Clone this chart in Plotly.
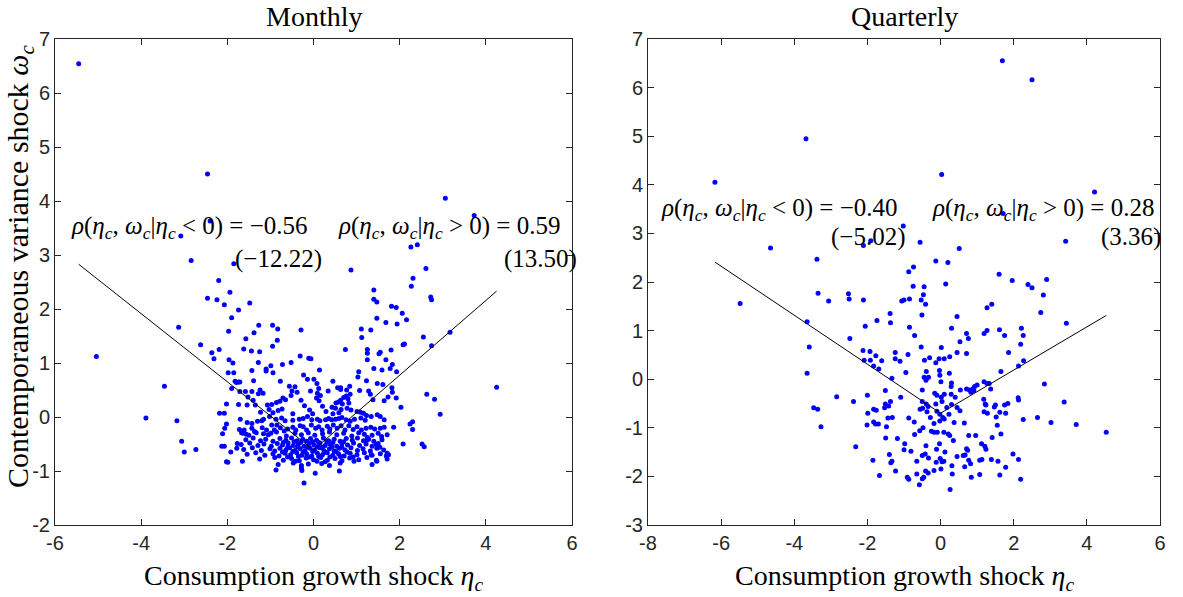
import plotly.graph_objects as go

# (eta_c, omega_c) pairs -- monthly sample
monthly_shocks = [
    (-5.45, 6.54), (-2.46, 4.50), (3.06, 4.05), (3.73, 3.73), (-3.08, 3.35), (-2.40, 3.63),
    (-2.84, 2.90), (-1.85, 2.84), (-2.20, 2.53), (-1.94, 2.31), (-2.46, 2.20), (-2.24, 2.17),
    (0.87, 2.72), (1.40, 2.35), (2.26, 3.15), (2.41, 3.19), (2.61, 2.75), (2.31, 2.57),
    (2.27, 2.42), (2.72, 2.22), (1.40, 2.18), (1.47, 2.13), (2.74, 2.17), (1.81, 2.05),
    (1.92, 2.03), (2.06, 1.92), (1.47, 1.83), (2.16, 1.80), (1.68, 1.75), (1.94, 1.72),
    (-1.48, 2.11), (-1.27, 1.70), (-0.95, 1.70), (-0.83, 1.63), (-0.29, 1.61), (1.11, 1.63),
    (1.33, 1.61), (-2.07, 2.08), (-1.90, 1.84), (-1.74, 1.98), (-3.13, 1.66), (-1.97, 1.59),
    (-2.62, 1.34), (-2.36, 1.19), (-2.19, 1.25), (-2.31, 1.08), (-1.96, 1.06), (-1.87, 1.00),
    (-1.98, 0.82), (-1.85, 0.82), (-1.82, 0.66), (-1.79, 0.64), (-1.74, 0.65), (-1.90, 0.53),
    (-5.04, 1.12), (-3.46, 0.57), (-3.89, -0.02), (-3.17, -0.07), (-3.06, -0.45), (-3.00, -0.65),
    (-2.73, -0.60), (-2.02, 0.24), (-1.74, 0.23), (-2.18, 0.07), (-2.07, 0.07), (-2.02, -0.13),
    (-2.06, -0.21), (-2.11, -0.31), (-1.72, -0.23), (-2.13, -0.54), (-2.07, -0.54), (-1.77, -0.49),
    (-1.78, -0.58), (-1.92, -0.65), (-2.02, -0.83), (4.25, 0.55), (2.94, 0.05), (3.17, 1.57),
    (-1.38, 1.56), (-1.57, 1.45), (-0.84, 1.42), (1.12, 1.47), (2.55, 1.48), (2.08, 1.34),
    (2.11, 1.35), (2.74, 1.32), (-0.95, 1.31), (-1.62, 1.26), (-1.44, 1.22), (-1.25, 1.21),
    (0.74, 1.25), (1.25, 1.25), (1.25, 1.18), (1.55, 1.20), (1.52, 1.17), (1.80, 1.24),
    (-0.31, 1.13), (-0.11, 1.09), (-0.06, 1.08), (1.25, 1.06), (1.68, 1.06), (-1.28, 1.01),
    (-0.72, 0.97), (-0.52, 1.01), (-0.99, 0.95), (-1.10, 0.89), (-1.10, 0.85), (-0.94, 0.82),
    (-1.43, 0.86), (1.83, 0.97), (1.78, 0.90), (1.93, 0.84), (1.05, 0.84), (1.40, 0.90),
    (1.59, 0.87), (1.03, 0.74), (-0.23, 0.78), (-0.14, 0.70), (0.14, 0.87), (-1.71, 0.65),
    (-1.39, 0.67), (-0.77, 0.66), (0.01, 0.70), (0.08, 0.62), (1.23, 0.67), (1.48, 0.62),
    (0.45, 0.66), (1.61, 0.60), (1.82, 0.54), (-0.56, 0.57), (-0.43, 0.56), (0.12, 0.53),
    (0.84, 0.57), (0.63, 0.54), (1.07, 0.49), (1.28, 0.48), (1.32, 0.42), (1.83, 0.46),
    (-1.58, 0.47), (-1.43, 0.47), (-1.24, 0.50), (-1.17, 0.44), (-1.28, 0.43), (-0.50, 0.48),
    (-0.38, 0.46), (-0.07, 0.48), (0.09, 0.44), (0.34, 0.48), (0.56, 0.54), (0.63, 0.51),
    (0.77, 0.50), (0.85, 0.42), (0.76, 0.39), (-1.52, 0.37), (-1.40, 0.31), (-1.71, 0.47),
    (-0.71, 0.35), (-0.65, 0.32), (-0.78, 0.29), (-0.86, 0.27), (-0.52, 0.40), (-0.29, 0.31),
    (-0.21, 0.21), (0.16, 0.40), (0.07, 0.35), (0.13, 0.30), (0.58, 0.28), (0.52, 0.26),
    (0.63, 0.31), (0.70, 0.36), (0.67, 0.24), (0.80, 0.34), (0.82, 0.26), (1.38, 0.32),
    (1.64, 0.30), (1.73, 0.37), (1.92, 0.35), (2.03, 0.18), (2.63, 0.42), (2.81, 0.33),
    (-1.54, 0.22), (-1.35, 0.22), (-1.07, 0.22), (-0.97, 0.23), (-1.23, 0.09), (-1.03, 0.14),
    (-0.94, 0.08), (-0.82, 0.12), (-0.73, 0.15), (-0.48, 0.06), (-0.09, 0.13), (-0.02, 0.06),
    (0.29, 0.10), (0.21, 0.20), (0.43, 0.18), (0.51, 0.16), (0.45, 0.06), (0.59, 0.08),
    (0.64, 0.14), (0.78, 0.16), (0.87, 0.13), (1.01, 0.10), (1.09, 0.09), (1.16, 0.07),
    (1.23, 0.03), (1.34, 0.01), (1.48, 0.04), (1.55, 0.01), (1.64, -0.05), (1.20, -0.06),
    (1.10, -0.02), (-1.70, -0.04), (-1.54, -0.10), (-1.43, -0.12), (-1.30, -0.08), (-1.20, -0.07),
    (-1.16, -0.04), (-1.02, 0.01), (-0.87, -0.04), (-0.74, -0.02), (-0.66, -0.07), (-0.48, -0.06),
    (-0.33, -0.04), (-0.24, -0.03), (-0.14, 0.01), (-0.04, -0.05), (0.09, -0.04), (0.15, -0.07),
    (0.28, -0.05), (0.35, -0.03), (0.42, -0.05), (0.51, -0.04), (0.59, -0.03), (0.66, -0.01),
    (0.76, -0.05), (0.85, -0.08), (0.95, -0.04), (1.86, -0.19), (2.24, -0.13), (2.30, -0.09),
    (2.30, -0.23), (-1.61, -0.24), (-1.56, -0.32), (-1.67, -0.29), (-1.43, -0.21), (-1.37, -0.27),
    (-1.19, -0.20), (-1.09, -0.24), (-1.16, -0.31), (-0.97, -0.15), (-0.91, -0.24), (-0.99, -0.30),
    (-0.85, -0.15), (-0.77, -0.20), (-0.68, -0.26), (-0.60, -0.22), (-0.48, -0.19), (-0.41, -0.24),
    (-0.31, -0.16), (-0.24, -0.18), (-0.16, -0.24), (-0.05, -0.15), (0.05, -0.21), (0.12, -0.18),
    (0.20, -0.24), (0.32, -0.17), (0.38, -0.22), (0.46, -0.15), (0.55, -0.21), (0.64, -0.16),
    (0.73, -0.24), (0.82, -0.16), (0.92, -0.23), (1.01, -0.18), (1.11, -0.24), (1.22, -0.21),
    (1.33, -0.19), (1.42, -0.22), (1.55, -0.21), (1.64, -0.19),
    (-1.64, -0.30), (-1.50, -0.34), (-1.33, -0.29), (-1.05, -0.33), (-0.86, -0.28), (-0.63, -0.35),
    (-0.43, -0.30), (-0.28, -0.33), (-0.12, -0.29), (0.03, -0.34), (0.21, -0.31), (0.37, -0.28),
    (0.54, -0.33), (0.70, -0.30), (0.89, -0.35), (1.05, -0.29), (1.18, -0.32), (1.36, -0.34),
    (1.50, -0.30), (1.71, -0.33),
    (-1.57, -0.42), (-1.40, -0.39), (-1.23, -0.44), (-1.11, -0.41), (-0.94, -0.45), (-0.78, -0.40),
    (-0.64, -0.43), (-0.51, -0.39), (-0.38, -0.44), (-0.25, -0.41), (-0.16, -0.45), (-0.07, -0.40),
    (0.07, -0.43), (0.23, -0.39), (0.35, -0.44), (0.48, -0.41), (0.62, -0.45), (0.76, -0.40),
    (0.90, -0.43), (1.02, -0.39), (1.16, -0.44), (1.28, -0.41), (1.40, -0.45), (1.59, -0.42),
    (-1.68, -0.51), (-1.48, -0.48), (-1.29, -0.53), (-1.15, -0.50), (-0.98, -0.54), (-0.84, -0.49),
    (-0.72, -0.52), (-0.59, -0.48), (-0.47, -0.53), (-0.35, -0.50), (-0.22, -0.54), (-0.10, -0.49),
    (0.01, -0.52), (0.15, -0.48), (0.27, -0.53), (0.38, -0.50), (0.54, -0.54), (0.66, -0.49),
    (0.79, -0.52), (0.93, -0.48), (1.07, -0.53), (1.22, -0.50), (1.36, -0.54), (1.50, -0.49),
    (-1.62, -0.60), (-1.42, -0.57), (-1.21, -0.62), (-1.01, -0.59), (-0.90, -0.63), (-0.78, -0.58),
    (-0.64, -0.61), (-0.55, -0.57), (-0.43, -0.62), (-0.31, -0.59), (-0.20, -0.63), (-0.08, -0.58),
    (0.03, -0.61), (0.15, -0.57), (0.24, -0.62), (0.37, -0.59), (0.48, -0.63), (0.60, -0.58),
    (0.73, -0.61), (0.87, -0.57), (1.02, -0.62), (1.15, -0.59), (1.32, -0.63), (1.47, -0.58),
    (1.63, -0.61),
    (-1.54, -0.69), (-1.34, -0.66), (-1.13, -0.71), (-0.94, -0.68), (-0.80, -0.72), (-0.66, -0.67),
    (-0.53, -0.70), (-0.39, -0.66), (-0.27, -0.71), (-0.16, -0.68), (-0.04, -0.72), (0.09, -0.67),
    (0.21, -0.70), (0.32, -0.66), (0.45, -0.71), (0.58, -0.68), (0.71, -0.72), (0.85, -0.67),
    (1.01, -0.70), (1.18, -0.66), (1.36, -0.71), (1.55, -0.68), (1.69, -0.72),
    (-1.25, -0.78), (-0.90, -0.75), (-0.70, -0.80), (-0.51, -0.77), (-0.33, -0.81), (-0.17, -0.76),
    (0.00, -0.79), (0.17, -0.75), (0.32, -0.80), (0.50, -0.77), (0.66, -0.81), (0.84, -0.76),
    (1.05, -0.79), (1.24, -0.75), (1.46, -0.80), (1.71, -0.78),
    (-0.82, -0.88), (-0.47, -0.85), (-0.28, -0.90), (-0.12, -0.87), (0.19, -0.86), (0.37, -0.90),
    (0.62, -0.85), (1.36, -0.88), (1.47, -0.82), (-1.99, -0.84), (-1.65, -0.82),
    (1.71, -0.67), (1.74, -0.70), (1.58, -0.36), (1.25, -0.38), (1.22, -0.45), (1.46, -0.51),
    (1.54, -0.56), (1.34, -0.70), (2.52, -0.50), (2.57, -0.55), (2.08, -0.50),
    (-0.87, -0.98), (-0.28, -0.95), (-0.27, -0.99), (0.04, -1.04), (0.60, -1.00), (-0.22, -1.22),
    (-0.70, -0.47), (-0.45, -0.46), (-0.30, -0.47), (-0.02, -0.46), (0.12, -0.47), (0.31, -0.46),
    (0.45, -0.47), (0.70, -0.46), (-0.60, -0.56), (-0.37, -0.55), (-0.14, -0.56), (0.09, -0.55),
    (0.20, -0.56), (0.43, -0.55), (0.66, -0.56), (-0.72, -0.65), (-0.48, -0.64), (-0.24, -0.65),
    (-0.02, -0.64), (0.27, -0.65), (0.52, -0.64), (0.78, -0.65), (-0.60, -0.74), (-0.35, -0.73),
    (-0.10, -0.74), (0.12, -0.73), (0.38, -0.74), (0.62, -0.73), (0.92, -0.74), (-0.42, -0.82),
    (0.08, -0.82), (0.27, -0.83), (0.94, -0.82),
]

# (eta_c, omega_c) pairs -- quarterly sample
quarterly_shocks = [
    (1.69, 6.55), (2.50, 6.16), (-3.68, 4.95), (-6.17, 4.05), (0.03, 4.21), (4.21, 3.85),
    (1.71, 3.41), (-1.02, 3.15), (-1.91, 2.85), (-2.11, 2.75), (-0.56, 2.82), (-4.65, 2.70),
    (0.51, 2.69), (3.42, 2.84), (-3.38, 2.47), (-0.13, 2.43), (0.20, 2.40), (-0.74, 2.31),
    (-0.87, 2.21), (1.60, 2.16), (1.96, 2.03), (2.39, 1.95), (2.90, 2.05), (0.14, 1.96),
    (-0.75, 1.91), (-0.45, 1.90), (2.50, 1.88),
    (-5.48, 1.56), (-3.35, 1.77), (-2.52, 1.76), (-2.50, 1.65), (-3.06, 1.61), (-2.11, 1.63),
    (-1.06, 1.61), (-1.00, 1.63), (-0.85, 1.65), (-0.53, 1.63), (-0.47, 1.74), (-0.41, 1.54),
    (2.81, 1.73), (1.27, 1.47), (1.40, 1.54), (-1.38, 1.35), (-0.51, 1.32), (0.45, 1.29),
    (2.74, 1.37), (-3.65, 1.18), (-1.74, 1.21), (-2.06, 1.09), (-1.37, 1.16), (-0.85, 1.07),
    (0.30, 1.05), (3.44, 1.15), (2.21, 1.05), (1.61, 1.02), (1.27, 1.00), (1.19, 0.94),
    (0.71, 0.94), (1.75, 0.90), (2.26, 0.90), (-0.71, 0.90), (-2.48, 0.84), (0.76, 0.84),
    (0.53, 0.77), (-3.59, 0.66), (-0.53, 0.66), (2.19, 0.72), (0.02, 0.65), (-2.12, 0.59),
    (-1.93, 0.57), (-1.24, 0.55), (0.45, 0.55), (0.71, 0.53), (1.86, 0.55), (-0.89, 0.51),
    (-1.77, 0.48), (-0.30, 0.44), (0.25, 0.46), (-2.09, 0.39), (-1.92, 0.39), (-1.61, 0.38),
    (-1.24, 0.42), (-1.11, 0.37), (-0.44, 0.39), (-0.04, 0.42), (0.10, 0.42), (2.27, 0.38),
    (-0.13, 0.34), (-1.83, 0.27), (-1.69, 0.21), (2.13, 0.27), (-3.65, 0.12), (-0.95, 0.14),
    (-0.39, 0.16), (-0.03, 0.18), (0.24, 0.12), (1.65, 0.16), (-0.02, 0.08), (-1.33, 0.02),
    (-0.45, 0.04), (-0.38, 0.02), (-0.33, 0.04), (-0.40, -0.02), (0.01, -0.05), (0.30, -0.08),
    (1.19, -0.05), (1.27, -0.09), (1.33, -0.09), (2.84, -0.10), (0.29, -0.15), (0.54, -0.22),
    (0.71, -0.20), (0.79, -0.22), (0.88, -0.20), (0.93, -0.15), (1.00, -0.12), (0.83, -0.27),
    (0.91, -0.23), (1.37, -0.20), (-1.51, -0.23), (-0.50, -0.22), (-2.84, -0.36), (-2.00, -0.33),
    (-1.09, -0.37), (-0.16, -0.29), (-0.10, -0.33), (0.10, -0.31), (0.02, -0.37), (0.40, -0.37),
    (0.29, -0.31), (2.12, -0.38), (2.13, -0.43), (1.18, -0.41), (1.22, -0.51), (1.24, -0.53),
    (-2.38, -0.46), (-1.37, -0.46), (-1.51, -0.51), (-1.42, -0.55), (-0.50, -0.46), (-0.39, -0.51),
    (-0.13, -0.51), (-0.34, -0.56), (0.04, -0.46), (0.30, -0.52), (1.50, -0.53), (1.47, -0.57),
    (1.84, -0.50), (1.75, -0.53), (3.38, -0.47), (-3.47, -0.59), (-3.36, -0.62), (-1.53, -0.59),
    (-1.83, -0.62), (-1.76, -0.64), (-0.56, -0.62), (-0.49, -0.60), (-0.37, -0.67), (-0.10, -0.66),
    (0.17, -0.58), (0.45, -0.58), (0.53, -0.65), (1.19, -0.67), (1.28, -0.70), (1.62, -0.68),
    (1.78, -0.70), (-1.99, -0.70), (-0.02, -0.72), (0.23, -0.72), (-1.32, -0.79), (-0.87, -0.80),
    (-0.28, -0.79), (0.06, -0.79), (0.10, -0.82), (1.52, -0.78), (2.65, -0.79), (2.26, -0.83),
    (-3.27, -0.98), (-2.01, -0.94), (-1.83, -0.88), (-1.78, -0.92), (-1.70, -0.92), (-1.44, -0.80),
    (-1.48, -0.98), (-0.72, -0.88), (-0.48, -1.00), (-0.18, -0.91), (-0.02, -0.86), (0.37, -0.89),
    (0.65, -0.90), (1.55, -0.95), (3.02, -0.89), (3.71, -0.93), (4.53, -1.09), (-0.57, -1.06),
    (-0.25, -1.07), (-0.18, -1.09), (-0.09, -1.09), (0.09, -1.09), (0.25, -1.16), (0.21, -1.13),
    (0.77, -1.16), (0.96, -1.16), (1.41, -1.20), (1.65, -1.13), (-1.50, -1.21), (-1.18, -1.22),
    (-0.71, -1.14), (0.35, -1.26), (-2.32, -1.39), (-0.98, -1.33), (-0.40, -1.37), (-0.03, -1.33),
    (1.12, -1.33), (1.21, -1.38), (1.24, -1.44), (-1.00, -1.45), (-0.11, -1.44), (-0.81, -1.48),
    (0.12, -1.50), (0.71, -1.43), (0.74, -1.46), (1.98, -1.54), (-1.40, -1.55), (-0.50, -1.57),
    (-0.42, -1.54), (0.45, -1.59), (0.62, -1.57), (0.67, -1.56), (-0.33, -1.62), (-0.01, -1.63),
    (-1.85, -1.67), (-1.33, -1.69), (-1.36, -1.72), (-0.65, -1.69), (-0.12, -1.71), (0.04, -1.70),
    (0.09, -1.69), (0.77, -1.67), (0.82, -1.74), (1.07, -1.67), (1.13, -1.65), (1.39, -1.65),
    (1.57, -1.69), (2.13, -1.65), (1.78, -1.81), (0.31, -1.78), (0.66, -1.80), (-0.18, -1.88),
    (0.01, -1.85), (-1.23, -1.89), (-0.41, -1.89), (-0.34, -1.93), (-0.65, -1.95), (0.32, -1.95),
    (1.07, -1.96), (1.62, -1.97), (-1.67, -1.98), (-0.91, -2.02), (-0.87, -2.06), (-0.46, -2.02),
    (-0.50, -2.05), (0.84, -2.02), (2.19, -2.06), (-0.58, -2.17), (0.26, -2.27),
]

# Kinked least-squares fits: (intercept, slope for eta<0, slope for eta>0)
monthly_fit = (-0.61, -0.631, 0.692)
quarterly_fit = (-0.70, -0.504, 0.444)

# Conditional correlations and t-statistics: (neg corr, neg t, pos corr, pos t)
monthly_corr = ("−0.56", "(−12.22)", "0.59", "(13.50)")
quarterly_corr = ("−0.40", "(−5.02)", "0.28", "(3.36)")

monthly_xticks = [-6, -4, -2, 0, 2, 4, 6]
monthly_yticks = [-2, -1, 0, 1, 2, 3, 4, 5, 6, 7]
quarterly_xticks = [-8, -6, -4, -2, 0, 2, 4, 6]
quarterly_yticks = [-3, -2, -1, 0, 1, 2, 3, 4, 5, 6, 7]

SERIF = "Liberation Serif, Times New Roman, serif"
SANS = "Liberation Sans, Arial, sans-serif"
AXCOL = "#262626"

W, H = 1183, 597
left_dom = [55 / W, 572 / W]
right_dom = [648 / W, 1160 / W]
y_dom = [1 - 525 / H, 1 - 39 / H]

fig = go.Figure()


def add_panel(points, fit, xa, ya):
    eta = [p[0] for p in points]
    omg = [p[1] for p in points]
    fig.add_trace(go.Scatter(
        x=eta, y=omg, mode="markers", xaxis=xa, yaxis=ya,
        marker=dict(color="#0000ff", size=5, line=dict(width=0)),
        hoverinfo="x+y"))
    a, bneg, bpos = fit
    xmin, xmax = min(eta), max(eta)
    fig.add_trace(go.Scatter(
        x=[xmin, 0], y=[a + bneg * xmin, a], mode="lines", xaxis=xa, yaxis=ya,
        line=dict(color="black", width=1)))
    fig.add_trace(go.Scatter(
        x=[0, xmax], y=[a, a + bpos * xmax], mode="lines", xaxis=xa, yaxis=ya,
        line=dict(color="black", width=1)))


add_panel(monthly_shocks, monthly_fit, "x", "y")
add_panel(quarterly_shocks, quarterly_fit, "x2", "y2")


def axis(ticks, dom, anchor):
    return dict(
        domain=dom, anchor=anchor, range=[ticks[0], ticks[-1]],
        tickvals=ticks, ticktext=[str(t) for t in ticks],
        showline=True, mirror="ticks", linecolor=AXCOL, linewidth=1,
        ticks="inside", ticklen=6, tickcolor=AXCOL, tickwidth=1,
        showgrid=False, zeroline=False, automargin=False,
        tickfont=dict(family=SANS, size=20, color=AXCOL))


fig.update_layout(
    width=W, height=H, margin=dict(l=0, r=0, t=0, b=0),
    paper_bgcolor="white", plot_bgcolor="white", showlegend=False,
    xaxis=axis(monthly_xticks, left_dom, "y"),
    yaxis=axis(monthly_yticks, y_dom, "x"),
    xaxis2=axis(quarterly_xticks, right_dom, "y2"),
    yaxis2=axis(quarterly_yticks, y_dom, "x2"),
)


def rho_text(sign, value):
    return ("<i>ρ</i>(<i>η<sub>c</sub></i>, <i>ω<sub>c</sub></i>|<i>η<sub>c</sub></i> "
            + sign + " 0) = " + value)


annots = []


def stat_labels(corr, xr, yr, xs):
    neg, tneg, pos, tpos = corr
    items = [(xs[0], 3.50, rho_text("&lt;", neg)), (xs[1], 2.92, tneg),
             (xs[2], 3.50, rho_text("&gt;", pos)), (xs[3], 2.92, tpos)]
    for x, y, t in items:
        annots.append(dict(x=x, y=y, xref=xr, yref=yr, text=t, showarrow=False,
                           xanchor="left", yanchor="middle",
                           font=dict(family=SERIF, size=25, color="black")))


stat_labels(monthly_corr, "x", "y", (-5.67, -1.87, 0.52, 4.38))
stat_labels(quarterly_corr, "x2", "y2", (-7.69, -3.06, -0.29, 4.34))

for dom, title in ((left_dom, "Monthly"), (right_dom, "Quarterly")):
    cx = (dom[0] + dom[1]) / 2
    annots.append(dict(x=cx, y=y_dom[1], xref="paper", yref="paper", text=title,
                       showarrow=False, xanchor="center", yanchor="bottom", yshift=5,
                       font=dict(family=SERIF, size=28, color="black")))
    annots.append(dict(x=cx, y=0, xref="paper", yref="paper",
                       text="Consumption growth shock <i>η<sub>c</sub></i>",
                       showarrow=False, xanchor="center", yanchor="bottom", yshift=0,
                       font=dict(family=SERIF, size=28, color="black")))

annots.append(dict(x=20 / W, y=1 - 266 / H, xref="paper", yref="paper",
                   text="Contemporaneous variance shock <i>ω<sub>c</sub></i>",
                   textangle=-90, showarrow=False, xanchor="center", yanchor="middle",
                   font=dict(family=SERIF, size=30, color="black")))

fig.update_layout(annotations=annots)
fig.write_html("out.html", post_script="document.body.style.margin='0';")
